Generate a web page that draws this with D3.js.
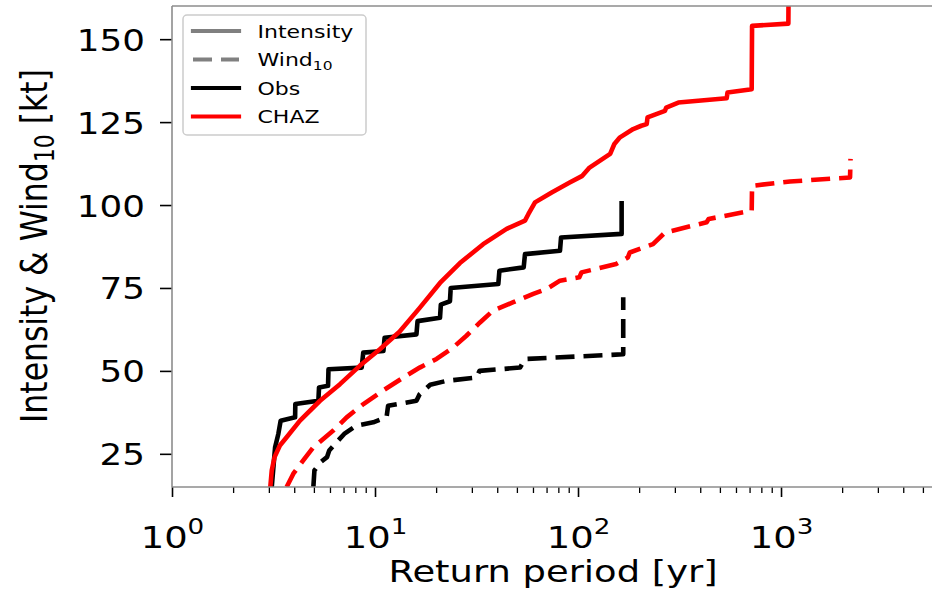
<!DOCTYPE html>
<html><head><meta charset="utf-8">
<script src="https://cdn.jsdelivr.net/npm/d3@7"></script>
<style>body{margin:0;background:#fff}svg{display:block}</style>
</head><body>
<svg id="chart" width="932" height="589"></svg>
<script>
// ---------- data ----------
const xLimits = [1, 5670];
const yLimits = [15, 160];
const yTicks = [25, 50, 75, 100, 125, 150];
const xMajorTicks = [1, 10, 100, 1000];
const xMinorTicks = [2,3,4,5,6,7,8,9,20,30,40,50,60,70,80,90,200,300,400,500,600,700,800,900,2000,3000,4000,5000];

// Obs intensity (return period [yr], kt)
const obsIntT = [3.1, 3.22, 3.34, 3.43, 4.04, 4.05, 5.26, 5.3, 5.87, 5.9, 8.6, 8.75, 11.0, 11.15, 16.0, 16.2, 20.9, 21.1, 23.4, 23.6, 40.5, 41.0, 54.0, 54.8, 81.5, 82.5, 164, 164];
const obsIntV = [15, 27, 31, 35, 36, 40, 41, 45, 45.5, 50.5, 51, 55.5, 56, 60, 61, 65, 66, 70, 71, 75, 76.2, 80.2, 81.2, 85.2, 86.2, 90.2, 91.3, 100.5];

// Obs wind10
const obsWindT = [4.97, 5.03, 5.4, 5.8, 5.95, 6.7, 7.05, 8.1, 9.8, 11.4, 11.6, 16.0, 16.6, 18.7, 22.5, 31.7, 32.7, 51.8, 54.8, 167, 167];
const obsWindV = [15, 20, 22.5, 24, 26, 29.5, 31, 33.5, 34.5, 36, 39.5, 41, 43, 45.8, 47, 48, 50, 51, 53.6, 55, 72.2];

// CHAZ intensity
const chazIntT = [3.05, 3.1, 3.2, 3.4, 3.67, 4.27, 5.36, 6.72, 8.44, 10.6, 13.2, 16.6, 20.9, 26.2, 34.1, 44.5, 54.8, 57, 61.4, 74.2, 91, 105, 114, 144, 151, 161, 187, 205, 218, 220, 268, 272, 312, 540, 545, 717, 720, 1087, 1090];
const chazIntV = [15, 20, 24, 27.5, 30, 35, 41, 46, 51.6, 56.6, 61.8, 69, 76.5, 82.5, 88.2, 92.8, 95.3, 97.3, 100.8, 103.8, 106.8, 108.8, 111.3, 115.4, 118.4, 120.4, 122.9, 123.9, 124.4, 126.4, 128.4, 129.4, 130.9, 132.2, 133.9, 134.9, 154, 154.7, 166];

// CHAZ wind10
const chazWindT = [3.67, 3.96, 4.43, 4.97, 6.23, 7.25, 8.77, 10.9, 13.8, 16.6, 20.1, 24.3, 28.2, 32.9, 38.2, 48.0, 60.2, 70.1, 81.5, 101.5, 104, 154, 176, 180, 234, 268, 430, 440, 717, 720, 1107, 2188, 2200];
const chazWindV = [15, 19, 23, 27, 32, 36, 40, 44, 48, 51, 53.6, 57.1, 60.6, 64.6, 68.2, 70.7, 73.2, 74.7, 77.2, 78.2, 79.7, 82.2, 84.2, 85.7, 88.2, 91.7, 94.8, 95.8, 98.3, 105.8, 107.1, 108.3, 113.9];

const legendLabels = ["Intensity", "Wind", "Obs", "CHAZ"];
const legendSubs = ["", "10", "", ""];
const legendColors = ["#808080", "#808080", "#000000", "#ff0000"];
const legendDashed = [false, true, false, false];

// ---------- drawing ----------
const SX = 1.19; // horizontal text stretch of the reference
const FONT = "'DejaVu Sans', sans-serif";
const svg = d3.select("#chart");

const x = d3.scaleLog().domain(xLimits).range([172, 934]);
const y = d3.scaleLinear().domain(yLimits).range([487, 6]);

// clip
svg.append("clipPath").attr("id", "plotclip").append("rect")
  .attr("x", x.range()[0]).attr("y", y.range()[1])
  .attr("width", x.range()[1] - x.range()[0]).attr("height", y.range()[0] - y.range()[1]);

// data lines
const line = d3.line().x(d => x(d[0])).y(d => y(d[1]));
const series = [
  {T: obsIntT, V: obsIntV, color: "#000", dashed: false},
  {T: obsWindT, V: obsWindV, color: "#000", dashed: true},
  {T: chazIntT, V: chazIntV, color: "#ff0000", dashed: false},
  {T: chazWindT, V: chazWindV, color: "#ff0000", dashed: true}
];
const gLines = svg.append("g").attr("clip-path", "url(#plotclip)");
series.forEach(s => {
  const pts = s.T.map((t, i) => [t, s.V[i]]);
  gLines.append("path").attr("d", line(pts))
    .attr("fill", "none").attr("stroke", s.color).attr("stroke-width", 4.6)
    .attr("stroke-linejoin", "round")
    .attr("stroke-linecap", s.dashed ? "butt" : "square")
    .attr("stroke-dasharray", s.dashed ? "19,9" : null);
});

// y axis
const gy = svg.append("g").attr("transform", `translate(${x.range()[0]},0)`)
  .call(d3.axisLeft(y).tickValues(yTicks).tickSize(12).tickFormat(d3.format("d")));
gy.select(".domain").remove();
gy.selectAll(".tick line").attr("stroke", "#000").attr("stroke-width", 1.6);
gy.selectAll(".tick text").attr("x", null).attr("dy", null)
  .attr("font-size", 30).attr("font-family", FONT).attr("fill", "#000")
  .attr("text-anchor", "end")
  .attr("transform", `translate(-27,11) scale(${SX},1)`);

// x axis major
const gx = svg.append("g").attr("transform", `translate(0,${y.range()[0]})`)
  .call(d3.axisBottom(x).tickValues(xMajorTicks).tickSize(10).tickFormat(""));
gx.select(".domain").remove();
gx.selectAll(".tick line").attr("stroke", "#000").attr("stroke-width", 1.6);
gx.selectAll(".tick text").remove();
gx.selectAll(".tick").each(function(d) {
  const t = d3.select(this).append("text")
    .attr("transform", `translate(0,61) scale(${SX},1)`)
    .attr("text-anchor", "middle").attr("font-family", FONT).attr("fill", "#000")
    .attr("font-size", 31);
  t.append("tspan").text("10");
  t.append("tspan").attr("font-size", 22).attr("dy", -14).text(Math.round(Math.log10(d)));
});
// x axis minor
const gxm = svg.append("g").attr("transform", `translate(0,${y.range()[0]})`)
  .call(d3.axisBottom(x).tickValues(xMinorTicks).tickSize(6).tickFormat(""));
gxm.select(".domain").remove();
gxm.selectAll(".tick line").attr("stroke", "#000").attr("stroke-width", 1.3);
gxm.selectAll(".tick text").remove();

// spines
const spine = {stroke: "#8c8c8c", w: 1.6};
svg.append("line").attr("x1", x.range()[0]).attr("x2", x.range()[0]).attr("y1", y.range()[1]).attr("y2", y.range()[0])
  .attr("stroke", spine.stroke).attr("stroke-width", spine.w);
svg.append("line").attr("x1", x.range()[0]).attr("x2", x.range()[1]).attr("y1", y.range()[1]).attr("y2", y.range()[1])
  .attr("stroke", spine.stroke).attr("stroke-width", spine.w);
svg.append("line").attr("x1", x.range()[0]).attr("x2", x.range()[1]).attr("y1", y.range()[0]).attr("y2", y.range()[0])
  .attr("stroke", spine.stroke).attr("stroke-width", spine.w);

// axis labels
svg.append("text").attr("transform", `translate(553,582) scale(${SX},1)`)
  .attr("text-anchor", "middle").attr("font-family", FONT).attr("font-size", 31).attr("fill", "#000")
  .text("Return period [yr]");
const yl = svg.append("text").attr("transform", `translate(47,246) rotate(-90) scale(1,${SX})`)
  .attr("text-anchor", "middle").attr("font-family", FONT).attr("font-size", 31.5).attr("fill", "#000");
yl.append("tspan").text("Intensity & Wind");
yl.append("tspan").attr("font-size", 22).attr("dy", 6).text("10");
yl.append("tspan").attr("dy", -6).text(" [kt]");

// legend
const lg = svg.append("g");
lg.append("rect").attr("x", 183).attr("y", 15).attr("width", 183).attr("height", 120).attr("rx", 4)
  .attr("fill", "#fff").attr("fill-opacity", 0.8).attr("stroke", "#cccccc").attr("stroke-width", 1.5);
legendLabels.forEach((lab, i) => {
  const yy = 31 + i * 28.5;
  lg.append("line").attr("x1", 193).attr("x2", 239).attr("y1", yy).attr("y2", yy)
    .attr("stroke", legendColors[i]).attr("stroke-width", 4.2)
    .attr("stroke-linecap", legendDashed[i] ? "butt" : "square")
    .attr("stroke-dasharray", legendDashed[i] ? "19,9" : null);
  const t = lg.append("text").attr("transform", `translate(257.5,${yy + 6.8}) scale(${SX},1)`)
    .attr("font-family", FONT).attr("font-size", 18.5).attr("fill", "#000");
  t.append("tspan").text(lab);
  if (legendSubs[i]) t.append("tspan").attr("font-size", 13).attr("dy", 4).text(legendSubs[i]);
});
</script>
</body></html>
